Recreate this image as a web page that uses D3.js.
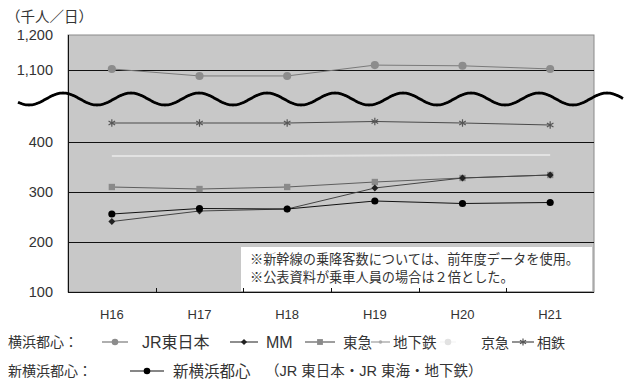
<!DOCTYPE html>
<html>
<head>
<meta charset="utf-8">
<script src="https://cdn.jsdelivr.net/npm/d3@7"></script>
<style>
  body { margin: 0; background: #fff; }
  svg text { font-family: "Liberation Sans", "Noto Sans CJK JP", sans-serif; fill: #333; }
</style>
</head>
<body>
<svg id="chart"></svg>
<script>
// data (千人/日)
const years = ['H16', 'H17', 'H18', 'H19', 'H20', 'H21'];
const jrEast = [1103, 1083, 1083, 1114, 1112, 1103];
const mm = [241, 262, 266, 308, 328, 334];
const tokyu = [310, 306, 310, 320, 328, 334];
const subway = [372, 372, 372, 373, 374, 374];
const sotetsu = [438, 438, 438, 441, 438, 434];
const shinYokohama = [256, 267, 266, 282, 277, 279];
const yTicks = [100, 200, 300, 400, 1100, 1200];
const notes = ['※新幹線の乗降客数については、前年度データを使用。', '※公表資料が乗車人員の場合は２倍とした。'];

class BrokenLineChart {

    constructor(_config) {
        this.config = {
            parentElement: _config.parentElement,
            containerWidth: 629,
            containerHeight: 379,
            margin: { top: 35, right: 35, bottom: 87, left: 68 }
        };
        this.series = [
            { key: 'jr', name: 'JR東日本', values: jrEast, line: '#7a7a7a', fill: '#8c8c8c', symbol: 'circle' },
            { key: 'subway', name: '地下鉄', values: subway, line: '#e2e2e2', fill: '#aaa', symbol: 'dash' },
            { key: 'sotetsu', name: '相鉄', values: sotetsu, line: '#4a4a4a', fill: '#555', symbol: 'asterisk' },
            { key: 'tokyu', name: '東急', values: tokyu, line: '#5e5e5e', fill: '#8a8a8a', symbol: 'square' },
            { key: 'mm', name: 'MM', values: mm, line: '#444', fill: '#222', symbol: 'diamond' },
            { key: 'shin', name: '新横浜都心', values: shinYokohama, line: '#111', fill: '#000', symbol: 'circle' }
        ];
        this.initVis();
    }

    initVis() {
        let vis = this;
        vis.width = vis.config.containerWidth - vis.config.margin.left - vis.config.margin.right;
        vis.height = vis.config.containerHeight - vis.config.margin.top - vis.config.margin.bottom;

        vis.svg = d3.select(vis.config.parentElement)
            .attr('width', vis.config.containerWidth)
            .attr('height', vis.config.containerHeight);

        vis.chart = vis.svg.append('g')
            .attr('transform', `translate(${vis.config.margin.left},${vis.config.margin.top})`);

        vis.xScale = d3.scaleBand().domain(years).range([0, vis.width]);
        // the axis is broken between ~460 and ~1040
        vis.yScale = d3.scaleLinear()
            .domain([100, 460, 1040, 1200])
            .range([vis.height, vis.height - 180, 56, 0]);

        vis.renderVis();
    }

    symbolPath(type, size) {
        const map = {
            circle: d3.symbolCircle, square: d3.symbolSquare,
            diamond: d3.symbolDiamond2, asterisk: d3.symbolAsterisk, dash: d3.symbolCircle
        };
        return d3.symbol(map[type], size)();
    }

    drawMarker(g, s, size) {
        let vis = this;
        const p = g.append('path').attr('d', vis.symbolPath(s.symbol, size));
        if (s.symbol === 'asterisk') {
            p.attr('fill', 'none').attr('stroke', s.fill).attr('stroke-width', 1.2);
        } else {
            p.attr('fill', s.fill);
        }
        return p;
    }

    renderVis() {
        let vis = this;
        const cx = d => vis.xScale(d) + vis.xScale.bandwidth() / 2;

        // plot background
        vis.chart.append('rect')
            .attr('width', vis.width)
            .attr('height', vis.height)
            .attr('fill', '#c8c8c8')
            .attr('stroke', '#8a8a8a')
            .attr('stroke-width', 1);

        // gridlines
        vis.chart.append('g')
            .selectAll('line')
            .data(yTicks.filter(d => d !== 100 && d !== 1200))
            .join('line')
            .attr('x1', 0).attr('x2', vis.width)
            .attr('y1', d => Math.round(vis.yScale(d)) + 0.5)
            .attr('y2', d => Math.round(vis.yScale(d)) + 0.5)
            .attr('stroke', '#111').attr('stroke-width', 1);

        // note box
        const note = vis.chart.append('g')
            .attr('transform', `translate(173,${vis.yScale(200) + 5})`);
        note.append('rect')
            .attr('width', vis.width - 175)
            .attr('height', vis.height - vis.yScale(200) - 6)
            .attr('fill', '#fff');
        note.selectAll('text')
            .data(notes)
            .join('text')
            .attr('x', 9)
            .attr('y', (d, i) => 17 + i * 18)
            .attr('font-size', 13.2)
            .text(d => d);

        // lines and markers
        const line = d3.line()
            .x((d, i) => cx(years[i]))
            .y(d => vis.yScale(d));

        vis.series.forEach(s => {
            vis.chart.append('path')
                .datum(s.values)
                .attr('d', line)
                .attr('fill', 'none')
                .attr('stroke', s.line)
                .attr('stroke-width', s.key === 'subway' ? 2 : 1);
            if (s.symbol === 'dash') return;
            s.values.forEach((v, i) => {
                const g = vis.chart.append('g')
                    .attr('transform', `translate(${cx(years[i])},${vis.yScale(v)})`);
                const size = s.key === 'jr' ? 52 : s.symbol === 'diamond' ? 30 : 40;
                vis.drawMarker(g, s, size);
            });
        });

        // axes
        vis.chart.append('line')
            .attr('x1', 0.5).attr('x2', 0.5).attr('y1', 0).attr('y2', vis.height)
            .attr('stroke', '#111');
        vis.chart.append('line')
            .attr('x1', 0).attr('x2', vis.width)
            .attr('y1', vis.height + 0.5).attr('y2', vis.height + 0.5)
            .attr('stroke', '#111');
        vis.chart.append('g')
            .selectAll('line')
            .data(years.slice(1))
            .join('line')
            .attr('x1', d => Math.round(vis.xScale(d)) + 0.5)
            .attr('x2', d => Math.round(vis.xScale(d)) + 0.5)
            .attr('y1', vis.height).attr('y2', vis.height - 4)
            .attr('stroke', '#111');

        const yAxis = d3.axisLeft(vis.yScale)
            .tickValues(yTicks)
            .tickFormat(d3.format(','))
            .tickSize(0)
            .tickPadding(15);
        vis.chart.append('g')
            .call(yAxis)
            .call(g => g.select('.domain').remove())
            .selectAll('text')
            .attr('font-size', 14.5)
            .attr('fill', '#333');

        vis.chart.append('g')
            .selectAll('text')
            .data(years)
            .join('text')
            .attr('x', cx)
            .attr('y', vis.height + 27)
            .attr('text-anchor', 'middle')
            .attr('font-size', 13)
            .text(d => d);

        vis.svg.append('text')
            .attr('x', 6).attr('y', 22)
            .attr('font-size', 14.5)
            .text('（千人／日）');

        // break mark
        const wave = d3.range(18, 624, 1).map(x => [x, 99 - 6 * Math.cos((x - 63) / 68 * 2 * Math.PI)]);
        vis.svg.append('path')
            .attr('d', d3.line()(wave))
            .attr('fill', 'none')
            .attr('stroke', '#000')
            .attr('stroke-width', 2.8);

        vis.renderLegend();
    }

    renderLegend() {
        let vis = this;
        const byKey = k => vis.series.find(s => s.key === k);
        const subwayKey = Object.assign({}, byKey('subway'), { line: '#c4c4c4' });
        const rows = [
            { y: 342, label: '横浜都心：', items: [
                { s: byKey('jr'), x: 102, w: 26, tx: 142, fs: 16 },
                { s: byKey('mm'), x: 230, w: 28, tx: 266, fs: 16 },
                { s: byKey('tokyu'), x: 305, w: 30, tx: 343, fs: 14.5 },
                { s: subwayKey, x: 371, w: 19, tx: 393, fs: 14.5 },
                { s: { name: '京急', line: '#f6f6f6', fill: '#e2e2e2', symbol: 'circle' }, x: 440, w: 16, tx: 481, fs: 14 },
                { s: byKey('sotetsu'), x: 512, w: 22, tx: 537, fs: 14 }
            ] },
            { y: 371, label: '新横浜都心：', items: [
                { s: byKey('shin'), x: 130, w: 34, tx: 173, fs: 15.5 }
            ] }
        ];

        rows.forEach(r => {
            const g = vis.svg.append('g');
            g.append('text')
                .attr('x', 8).attr('y', r.y + 5)
                .attr('font-size', 14)
                .text(r.label);
            r.items.forEach(it => {
                g.append('line')
                    .attr('x1', it.x).attr('x2', it.x + it.w)
                    .attr('y1', r.y).attr('y2', r.y)
                    .attr('stroke', it.s.line)
                    .attr('stroke-width', it.s.symbol === 'dash' ? 2 : 1.2);
                const m = g.append('g').attr('transform', `translate(${it.x + it.w / 2},${r.y})`);
                vis.drawMarker(m, it.s, it.s.symbol === 'dash' ? 10 : it.s.symbol === 'diamond' ? 24 : 34);
                g.append('text')
                    .attr('x', it.tx).attr('y', r.y + 6)
                    .attr('font-size', it.fs)
                    .text(it.s.name);
            });
        });

        vis.svg.append('text')
            .attr('x', 265).attr('y', 376)
            .attr('font-size', 14.5)
            .text('（JR 東日本・JR 東海・地下鉄）');
    }
}

new BrokenLineChart({ parentElement: '#chart' });
</script>
</body>
</html>
